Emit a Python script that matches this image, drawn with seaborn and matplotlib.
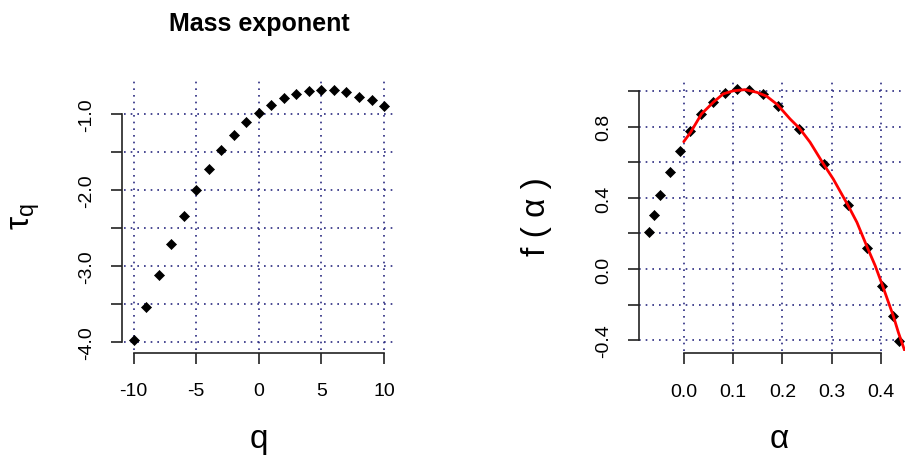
import numpy as np
import pandas as pd
import matplotlib
matplotlib.use("Agg")
import matplotlib.pyplot as plt
import seaborn as sns

# -----------------------------
# Data
# -----------------------------

# mass exponent tau(q)
q = [-10, -9, -8, -7, -6, -5, -4, -3, -2, -1, 0,
     1, 2, 3, 4, 5, 6, 7, 8, 9, 10]
tau = [-3.98, -3.535, -3.12, -2.715, -2.338, -1.996, -1.724, -1.47, -1.276, -1.11, -0.99,
       -0.878, -0.793, -0.733, -0.694, -0.688, -0.688, -0.714, -0.772, -0.816, -0.899]

# singularity spectrum f(alpha)
alpha = [-0.0698, -0.0602, -0.0474, -0.0284, -0.0081, 0.0134, 0.0351, 0.0588, 0.0832, 0.1087,
         0.1325, 0.161, 0.192, 0.2345, 0.285, 0.3327, 0.371, 0.4016, 0.424, 0.437]
f_alpha = [0.211, 0.303, 0.418, 0.544, 0.665, 0.776, 0.874, 0.938, 0.990, 1.011,
           1.010, 0.983, 0.919, 0.791, 0.591, 0.358, 0.120, -0.094, -0.267, -0.405]

# red fitted curve
alpha_fit = [0.000, 0.014, 0.036, 0.060, 0.080, 0.100, 0.124, 0.148, 0.168, 0.190,
             0.2155, 0.235, 0.256, 0.283, 0.303, 0.334, 0.351, 0.372, 0.388, 0.403,
             0.415, 0.425, 0.435, 0.449, 0.460]
f_fit = [0.717, 0.770, 0.873, 0.939, 0.986, 1.003, 1.010, 0.995, 0.973, 0.925,
         0.845, 0.791, 0.714, 0.592, 0.507, 0.353, 0.263, 0.122, 0.019, -0.094,
         -0.188, -0.266, -0.357, -0.469, -0.550]

# ticks and labels (R drops the labels that would overlap)
q_ticks = [-10, -5, 0, 5, 10]
q_labels = ["-10", "-5", "0", "5", "10"]
tau_ticks = [-4.0, -3.5, -3.0, -2.5, -2.0, -1.5, -1.0]
tau_labels = ["-4.0", "", "-3.0", "", "-2.0", "", "-1.0"]
alpha_ticks = [0.0, 0.1, 0.2, 0.3, 0.4]
alpha_labels = ["0.0", "0.1", "0.2", "0.3", "0.4"]
f_ticks = [-0.4, -0.2, 0.0, 0.2, 0.4, 0.6, 0.8, 1.0]
f_labels = ["-0.4", "", "0.0", "", "0.4", "", "0.8", ""]

# -----------------------------
# Style
# -----------------------------

sns.set_theme(style="ticks")
plt.rcParams["font.family"] = ["Liberation Sans", "DejaVu Sans"]
plt.rcParams["text.color"] = "black"
plt.rcParams["axes.labelcolor"] = "black"
plt.rcParams["mathtext.fontset"] = "custom"
plt.rcParams["mathtext.rm"] = "Liberation Sans"
plt.rcParams["mathtext.it"] = "Liberation Sans"

grid_kw = dict(color="#2a2a80", linewidth=1.2, linestyle=(0, (1, 3)))
spine_color = "#222222"


def r_limits(values):
    # R style axis range: data range plus 4% on each side
    lo, hi = min(values), max(values)
    pad = 0.04 * (hi - lo)
    return lo - pad, hi + pad


def style_axis(ax, xticks, xlabels, yticks, ylabels, offset):
    ax.set_xticks(xticks)
    ax.set_xticklabels(xlabels)
    ax.set_yticks(yticks)
    ax.set_yticklabels(ylabels)
    ax.tick_params(axis="both", length=8, width=1.2, color=spine_color,
                   labelsize=14, labelcolor="black")
    ax.tick_params(axis="x", pad=13.5)
    ax.tick_params(axis="y", pad=11.5)
    ax.grid(True, **grid_kw)
    ax.set_axisbelow(True)
    sns.despine(ax=ax, offset=offset, trim=True)
    # y labels run along the axis, as in R
    plt.setp(ax.get_yticklabels(), rotation=90, va="center")
    for side in ["left", "bottom"]:
        ax.spines[side].set_color(spine_color)
        ax.spines[side].set_linewidth(1.2)


fig = plt.figure(figsize=(9.05, 4.56), dpi=100)

# -----------------------------
# Left panel - Mass exponent
# -----------------------------

ax1 = fig.add_axes([0.1367, 0.2292, 0.2987, 0.5925])

sns.scatterplot(x=q, y=tau, marker="D", s=26, color="black",
                edgecolor="black", linewidth=0.5, ax=ax1, zorder=3)

ax1.set_xlim(r_limits(q))
ax1.set_ylim(r_limits(tau))
style_axis(ax1, q_ticks, q_labels, tau_ticks, tau_labels,
           offset={"left": 1, "bottom": 1.5})

ax1.set_title("Mass exponent", fontsize=18, fontweight="bold", pad=36)
ax1.set_xlabel("q", fontsize=24, va="baseline")
ax1.xaxis.set_label_coords(0.5, -0.357)
ax1.set_ylabel(r"$\tau_q$", fontsize=24, va="center", ha="center")
ax1.yaxis.set_label_coords(-0.361, 0.5)

# -----------------------------
# Right panel - f(alpha)
# -----------------------------

ax2 = fig.add_axes([0.7064, 0.2281, 0.2984, 0.5956])

sns.scatterplot(x=alpha, y=f_alpha, marker="D", s=26, color="black",
                edgecolor="black", linewidth=0.5, ax=ax2, zorder=3)
sns.lineplot(x=alpha_fit, y=f_fit, color="red", linewidth=2.0,
             sort=False, estimator=None, ax=ax2, zorder=4)

ax2.set_xlim(r_limits(alpha))
ax2.set_ylim(r_limits(f_alpha))
style_axis(ax2, alpha_ticks, alpha_labels, f_ticks, f_labels,
           offset={"left": 0, "bottom": 1.5})

ax2.set_xlabel("α", fontsize=24, va="baseline")
ax2.xaxis.set_label_coords(0.5175, -0.355)
ax2.set_ylabel("f ( α )", fontsize=24, va="center", ha="center")
ax2.yaxis.set_label_coords(-0.379, 0.5)

plt.savefig("out.png", dpi=100)
